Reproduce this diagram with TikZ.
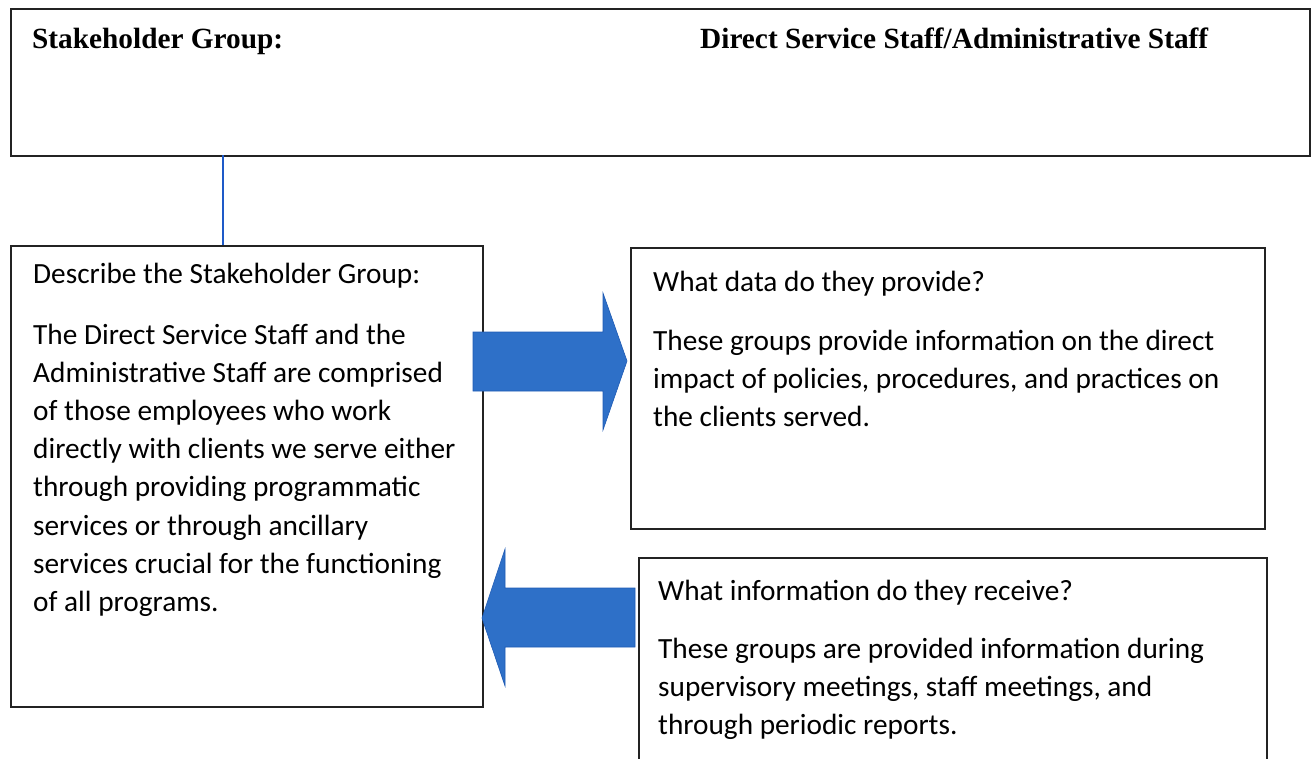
\documentclass[tikz,border=0pt]{standalone}
\usepackage{fontspec}
\setmainfont{Liberation Serif}
\newfontfamily\calfont{Carlito}
\definecolor{arrowblue}{RGB}{46,112,200}
\definecolor{arrowedge}{RGB}{30,90,180}
\definecolor{linkblue}{RGB}{30,90,200}
\definecolor{boxline}{RGB}{35,35,35}
\tikzset{
  box/.style={draw=boxline, line width=1.6pt, inner sep=0pt, anchor=north west, fill=none},
  heading/.style={anchor=base west, inner sep=0pt, font=\fontsize{29.3}{35}\selectfont\bfseries},
  bodytext/.style={anchor=base west, inner sep=0pt, font=\calfont\fontsize{29.3}{38.2}\selectfont},
  blockarrow/.style={fill=arrowblue, draw=arrowedge, line width=0.6pt, line join=miter},
  link/.style={draw=linkblue, line width=1.5pt}
}
\begin{document}
\begin{tikzpicture}[x=1pt,y=-1pt]
\useasboundingbox (0,0) rectangle (1312,758);
% boxes
\node[box, minimum width=1299pt, minimum height=147pt] (top) at (10,8) {};
\node[box, minimum width=472pt, minimum height=461pt] (desc) at (10,245) {};
\node[box, minimum width=634pt, minimum height=281pt] (data) at (630,247) {};
\node[box, minimum width=628pt, minimum height=230pt] (info) at (638,557) {};
% connector line
\coordinate (linktop) at (223,155);
\draw[link] (linktop) -- (linktop |- desc.north);
% heading texts
\node[heading] (sg) at (32,48) {Stakeholder Group:};
\node[heading] (dss) at (700,48) {Direct Service Staff/Administrative Staff};
% left box texts
\node[bodytext] (desct) at (33,283) {Describe the Stakeholder Group:};
\node[bodytext] (descb) at (33,344) {\parbox[t]{600pt}{\raggedright
The Direct Service Staff and the\\
Administrative Staff are comprised\\
of those employees who work\\
directly with clients we serve either\\
through providing programmatic\\
services or through ancillary\\
services crucial for the functioning\\
of all programs.}};
% right top texts
\node[bodytext] (datat) at (653,291) {What data do they provide?};
\node[bodytext] (datab) at (653,350) {\parbox[t]{700pt}{\raggedright
These groups provide information on the direct\\
impact of policies, procedures, and practices on\\
the clients served.}};
% right bottom texts
\node[bodytext] (infot) at (658,600) {What information do they receive?};
\node[bodytext] (infob) at (658,658) {\parbox[t]{700pt}{\raggedright
These groups are provided information during\\
supervisory meetings, staff meetings, and\\
through periodic reports.}};
% block arrows
\draw[blockarrow] (473,332) -- (603,332) -- (603,293) -- (627,361) -- (603,430) -- (603,391) -- (473,391) -- cycle;
\draw[blockarrow] (635,588) -- (505,588) -- (505,549) -- (482,618) -- (505,686) -- (505,647) -- (635,647) -- cycle;
\end{tikzpicture}
\end{document}
